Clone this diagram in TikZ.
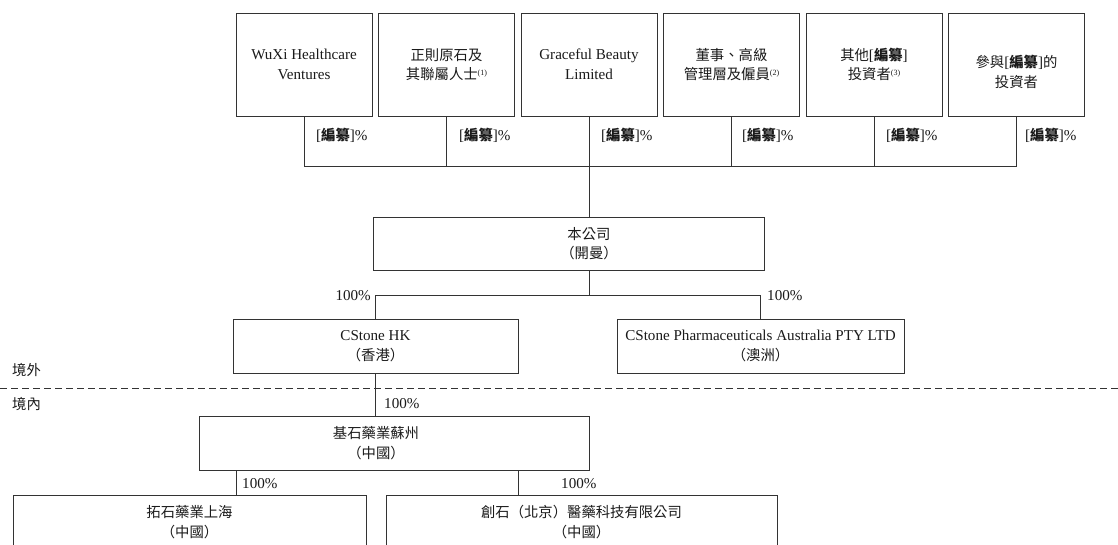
\documentclass[tikz,border=0pt]{standalone}
\usepackage{fontspec}
\setmainfont{Liberation Serif}
\newfontfamily\cjk[Scale=0.95]{Noto Sans CJK TC}
\newcommand{\zh}[1]{{\cjk #1}}
\newcommand{\bz}{{\cjk\bfseries 編纂}}
\newcommand{\supn}[1]{\raisebox{0.6ex}{\fontsize{8}{9}\selectfont(#1)}}
\definecolor{ln}{HTML}{333333}
\definecolor{txt}{HTML}{1A1A1A}
\begin{document}
\begin{tikzpicture}[x=1pt,y=-1pt,
  every node/.style={font=\fontsize{15.1}{19.5}\selectfont, text=txt, align=center},
  orgbox/.style={draw=ln, line width=0.9pt, inner sep=0pt},
  topbox/.style={orgbox, minimum width=136pt, minimum height=103pt},
  conn/.style={draw=ln, line width=0.9pt},
  pct/.style={anchor=west, inner sep=0pt},
  border/.style={draw=ln, line width=0.9pt, dash pattern=on 7pt off 4pt}]
\useasboundingbox (0,0) rectangle (1118,544);
\clip (0,0) rectangle (1118,544);

% shareholders
\node[topbox] (s1) at (304,64.5) {WuXi Healthcare\\Ventures};
\node[topbox] (s2) at (446.5,64.5) {\zh{正則原石及}\\\zh{其聯屬人士}\supn{1}};
\node[topbox] (s3) at (589,64.5) {Graceful Beauty\\Limited};
\node[topbox] (s4) at (731.5,64.5) {\zh{董事、高級}\\\zh{管理層及僱員}\supn{2}};
\node[topbox] (s5) at (874,64.5) {\zh{其他}[\bz]\\\zh{投資者}\supn{3}};
\node[topbox] (s6) at (1016.5,64.5) {};
\node (t6) at (1016.5,72) {\zh{參與}[\bz]\zh{的}\\\zh{投資者}};

\node[pct] (p1) at (316,135) {[\bz]\%};
\node[pct] (p2) at (459,135) {[\bz]\%};
\node[pct] (p3) at (601,135) {[\bz]\%};
\node[pct] (p4) at (742,135) {[\bz]\%};
\node[pct] (p5) at (886,135) {[\bz]\%};
\node[pct] (p6) at (1025,135) {[\bz]\%};

\coordinate (bus) at (0,166);
\draw[conn] (s1.south) -- (s1.south |- bus) -- (s6.south |- bus) -- (s6.south);
\draw[conn] (s2.south) -- (s2.south |- bus);
\draw[conn] (s4.south) -- (s4.south |- bus);
\draw[conn] (s5.south) -- (s5.south |- bus);

% company
\node[orgbox, minimum width=391pt, minimum height=53pt] (co) at (568.5,243.5) {};
\node (cot) at (589,243.5) {\zh{本公司}\\\zh{（開曼）}};
\draw[conn] (s3.south) -- (s3.south |- co.north);

\coordinate (bus2) at (0,295);
\node[orgbox, minimum width=285pt, minimum height=54pt] (hk) at (375.5,346) {CStone HK\\\zh{（香港）}};
\node[orgbox, minimum width=287pt, minimum height=54pt] (au) at (760.5,346) {CStone Pharmaceuticals Australia PTY LTD\\\zh{（澳洲）}};
\draw[conn] (cot |- co.south) -- (cot |- bus2);
\draw[conn] (hk.north) -- (hk.north |- bus2) -- (au.north |- bus2) -- (au.north);
\node[anchor=east, inner sep=0pt] (l1) at (371,296) {100\%};
\node[anchor=west, inner sep=0pt] (l2) at (767,296) {100\%};

% border line
\coordinate (dl) at (0,388);
\coordinate (dr) at (1118,388);
\draw[border] (dl) -- (dr);
\node[anchor=west, inner sep=0pt] (out) at (12,370) {\zh{境外}};
\node[anchor=west, inner sep=0pt] (in) at (12,404) {\zh{境內}};

% Suzhou
\node[orgbox, minimum width=390pt, minimum height=54pt] (js) at (394,443) {};
\node (jst) at (376,443) {\zh{基石藥業蘇州}\\\zh{（中國）}};
\draw[conn] (hk.south) -- (hk.south |- js.north);
\node[anchor=west, inner sep=0pt] (l3) at (384,404) {100\%};

% subsidiaries
\node[orgbox, minimum width=353pt, minimum height=54pt] (ts) at (189.5,522) {\zh{拓石藥業上海}\\\zh{（中國）}};
\node[orgbox, minimum width=391pt, minimum height=54pt] (cs) at (581.5,522) {\zh{創石（北京）醫藥科技有限公司}\\\zh{（中國）}};
\coordinate (c1) at (236,470);
\coordinate (c2) at (518,470);
\draw[conn] (c1) -- (c1 |- ts.north);
\draw[conn] (c2) -- (c2 |- cs.north);
\node[anchor=west, inner sep=0pt] (l4) at (242,484) {100\%};
\node[anchor=west, inner sep=0pt] (l5) at (561,484) {100\%};
\end{tikzpicture}
\end{document}
